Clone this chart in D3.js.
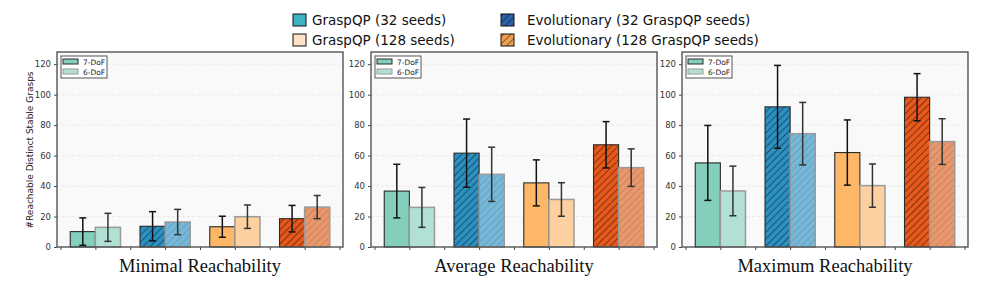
<!DOCTYPE html>
<html>
<head>
<meta charset="utf-8">
<script src="https://cdn.jsdelivr.net/npm/d3@7"></script>
<style>
  body { margin: 0; background: #fff; }
  svg { display: block; }
</style>
</head>
<body>
<svg id="chart" width="997" height="288"></svg>
<script>
// data
var panels = ["Minimal Reachability", "Average Reachability", "Maximum Reachability"];
var methods = ["GraspQP (32 seeds)", "Evolutionary (32 GraspQP seeds)", "GraspQP (128 seeds)", "Evolutionary (128 GraspQP seeds)"];
var robots = ["7-DoF", "6-DoF"];
var yTicks = [0, 20, 40, 60, 80, 100, 120];

var mean7 = [[10.1, 13.6, 13.3, 18.6], [36.7, 61.6, 42.1, 67.1], [55.2, 92.0, 62.0, 98.3]];
var err7  = [[9.0, 9.6, 6.9, 8.7],     [17.6, 22.4, 15.1, 15.2], [24.6, 27.2, 21.4, 15.5]];
var mean6 = [[12.9, 16.4, 19.9, 26.2], [26.0, 47.7, 31.2, 52.1], [36.8, 74.4, 40.3, 69.2]];
var err6  = [[9.2, 8.3, 7.7, 7.6],     [13.1, 17.8, 11.0, 12.3], [16.3, 20.5, 14.2, 15.0]];

var barColor7 = ["#84cfbb", "#2b90c2", "#fdb766", "#e8581a"];
var barColor6 = ["#b1e1d4", "#75b8da", "#fdd19f", "#ea976c"];
var legendColor = ["#3bb3c3", "#2c62ad", "#fde2c6", "#f0a050"];
var hatched = [false, true, false, true];

var svg = d3.select("#chart");
var defs = svg.append("defs");

function hatch(id, color, stroke, op) {
  var p = defs.append("pattern").attr("id", id)
    .attr("patternUnits", "userSpaceOnUse").attr("width", 5).attr("height", 5)
    .attr("patternTransform", "rotate(45)");
  p.append("rect").attr("width", 5).attr("height", 5).attr("fill", color);
  p.append("line").attr("x1", 0).attr("y1", 0).attr("x2", 0).attr("y2", 5)
    .attr("stroke", stroke).attr("stroke-width", 1.1).attr("stroke-opacity", op);
}
for (var i = 0; i < 4; i++) {
  if (!hatched[i]) continue;
  hatch("h7_" + i, barColor7[i], "#111", 0.9);
  hatch("h6_" + i, barColor6[i], "#555", 0.45);
  hatch("hl_" + i, legendColor[i], "#111", 0.9);
}

var panelLeft = [57, 371, 682];
var panelW = 286;
var plotTop = 52, plotBottom = 247;
var bw = 0.36;

var y = d3.scaleLinear().domain([0, 128]).range([plotBottom, plotTop]);

panels.forEach(function(title, p) {
  var x = d3.scaleLinear().domain([-0.55, 3.55]).range([panelLeft[p], panelLeft[p] + panelW]);
  var g = svg.append("g");

  g.append("rect").attr("x", x(-0.55)).attr("y", plotTop).attr("width", panelW).attr("height", plotBottom - plotTop)
    .attr("fill", "#f9f9f9");

  // grid
  g.selectAll(".grid").data(yTicks.slice(1)).enter().append("line")
    .attr("x1", x(-0.55)).attr("x2", x(3.55))
    .attr("y1", d => y(d)).attr("y2", d => y(d))
    .attr("stroke", "#e2e2e2").attr("stroke-width", 0.7).attr("stroke-dasharray", "3,2");

  // bars
  [0, 1].forEach(function(r) {
    var means = r == 0 ? mean7[p] : mean6[p];
    var errs = r == 0 ? err7[p] : err6[p];
    g.selectAll(".bar" + r).data(means).enter().append("rect")
      .attr("x", (d, i) => r == 0 ? x(i - bw) : x(i))
      .attr("width", x(bw) - x(0))
      .attr("y", d => y(d))
      .attr("height", d => y(0) - y(d))
      .attr("fill", (d, i) => hatched[i] ? "url(#h" + (r == 0 ? 7 : 6) + "_" + i + ")" : (r == 0 ? barColor7[i] : barColor6[i]))
      .attr("stroke", r == 0 ? "#2a2a2a" : "#9a9a9a")
      .attr("stroke-width", r == 0 ? 1.1 : 1.5);

    var eg = g.selectAll(".err" + r).data(means).enter().append("g")
      .attr("stroke", r == 0 ? "#111" : "#333").attr("stroke-width", 1.5);
    eg.append("line")
      .attr("x1", (d, i) => x(i + (r == 0 ? -bw / 2 : bw / 2)))
      .attr("x2", (d, i) => x(i + (r == 0 ? -bw / 2 : bw / 2)))
      .attr("y1", (d, i) => y(d + errs[i])).attr("y2", (d, i) => y(d - errs[i]));
    eg.append("line")
      .attr("x1", (d, i) => x(i + (r == 0 ? -bw / 2 : bw / 2)) - 3.5)
      .attr("x2", (d, i) => x(i + (r == 0 ? -bw / 2 : bw / 2)) + 3.5)
      .attr("y1", (d, i) => y(d + errs[i])).attr("y2", (d, i) => y(d + errs[i]));
    eg.append("line")
      .attr("x1", (d, i) => x(i + (r == 0 ? -bw / 2 : bw / 2)) - 3.5)
      .attr("x2", (d, i) => x(i + (r == 0 ? -bw / 2 : bw / 2)) + 3.5)
      .attr("y1", (d, i) => y(d - errs[i])).attr("y2", (d, i) => y(d - errs[i]));
  });

  // axes
  var yAxis = g.append("g").attr("transform", "translate(" + x(-0.55) + ",0)")
    .call(d3.axisLeft(y).tickValues(yTicks).tickSize(3).tickPadding(3));
  yAxis.select(".domain").remove();
  yAxis.selectAll("text").attr("font-family", "DejaVu Sans").attr("font-size", 8.5).attr("fill", "#333");
  yAxis.selectAll("line").attr("stroke", "#444");

  var xAxis = g.append("g").attr("transform", "translate(0," + plotBottom + ")")
    .call(d3.axisBottom(x).tickValues([-0.5, 0, 0.5, 1, 1.5, 2, 2.5, 3, 3.5]).tickSize(3).tickFormat(""));
  xAxis.select(".domain").remove();
  xAxis.selectAll("line").attr("stroke", "#444");

  g.append("rect").attr("x", x(-0.55)).attr("y", plotTop).attr("width", panelW).attr("height", plotBottom - plotTop)
    .attr("fill", "none").attr("stroke", "#555").attr("stroke-width", 1.4);

  // small legend
  var lx = x(-0.55) + 4, ly = plotTop + 4;
  var lg = g.append("g");
  lg.append("rect").attr("x", lx).attr("y", ly).attr("width", 46).attr("height", 22)
    .attr("fill", "#fff").attr("stroke", "#555").attr("stroke-width", 1);
  robots.forEach(function(rb, r) {
    lg.append("rect").attr("x", lx + 2).attr("y", ly + 3 + r * 10).attr("width", 15).attr("height", 5)
      .attr("fill", r == 0 ? barColor7[0] : barColor6[0])
      .attr("stroke", r == 0 ? "#2a2a2a" : "#9a9a9a").attr("stroke-width", 1);
    lg.append("text").attr("x", lx + 22).attr("y", ly + 8.5 + r * 10)
      .attr("font-family", "DejaVu Sans").attr("font-size", 7.5).attr("fill", "#222").text(rb);
  });

  g.append("text").attr("x", x(1.5)).attr("y", 272).attr("text-anchor", "middle")
    .attr("font-family", "Liberation Serif").attr("font-size", 18.5).attr("fill", "#111").text(title);
});

// y label
svg.append("text").attr("transform", "translate(33,150) rotate(-90)")
  .attr("text-anchor", "middle").attr("font-family", "DejaVu Sans").attr("font-size", 9).attr("fill", "#222")
  .text("#Reachable Distinct Stable Grasps");

// top legend
var legPos = [[293, 14], [501, 14], [293, 34], [501, 34]];
var legText = [312, 527, 312, 527];
methods.forEach(function(m, i) {
  svg.append("rect").attr("x", legPos[i][0]).attr("y", legPos[i][1]).attr("width", 13).attr("height", 12)
    .attr("fill", hatched[i] ? "url(#hl_" + i + ")" : legendColor[i])
    .attr("stroke", "#111").attr("stroke-width", 1);
  svg.append("text").attr("x", legText[i]).attr("y", legPos[i][1] + 10.5)
    .attr("font-family", "DejaVu Sans").attr("font-size", 13.5).attr("fill", "#111").text(m);
});
</script>
</body>
</html>
